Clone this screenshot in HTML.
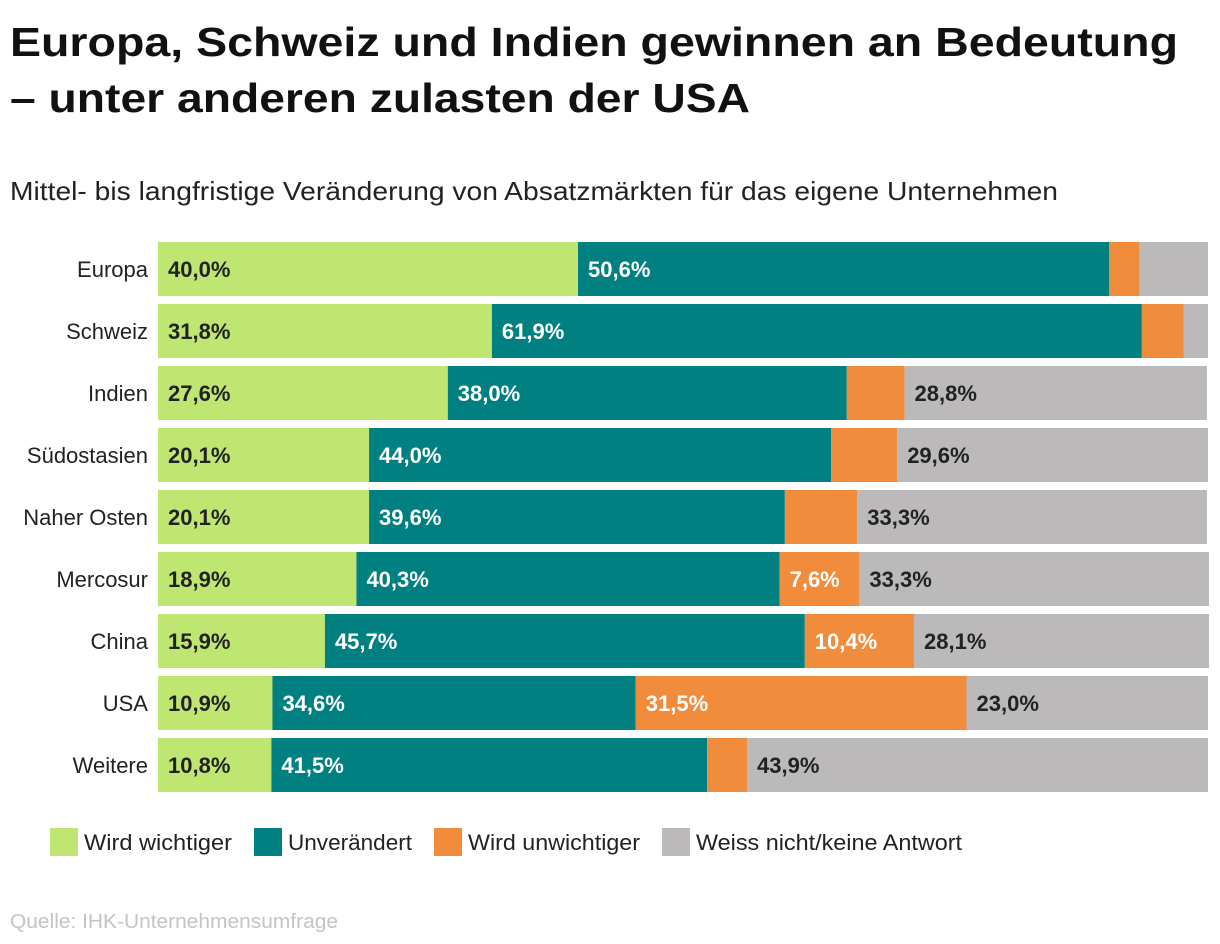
<!DOCTYPE html>
<html><head><meta charset="utf-8"><style>
html,body{margin:0;padding:0;background:#fff;}
svg{display:block;font-family:"Liberation Sans",sans-serif;}
</style></head><body>
<svg id="c" width="1220" height="944" viewBox="0 0 1220 944">
<text x="10" y="56" font-size="41" font-weight="bold" fill="#111" textLength="1168" lengthAdjust="spacingAndGlyphs">Europa, Schweiz und Indien gewinnen an Bedeutung</text>
<text x="10" y="112" font-size="41" font-weight="bold" fill="#111" textLength="740" lengthAdjust="spacingAndGlyphs">– unter anderen zulasten der USA</text>
<text x="10" y="200" font-size="26" fill="#222" textLength="1048" lengthAdjust="spacingAndGlyphs">Mittel- bis langfristige Veränderung von Absatzmärkten für das eigene Unternehmen</text>
<g id="bars"></g>
<g id="legend"></g>
<text x="10" y="928" font-size="20" fill="#c4c4c4" textLength="328" lengthAdjust="spacingAndGlyphs">Quelle: IHK-Unternehmensumfrage</text>
</svg>
<script>
const categories=["Europa","Schweiz","Indien","Südostasien","Naher Osten","Mercosur","China","USA","Weitere"];
const wichtiger=[40.0,31.8,27.6,20.1,20.1,18.9,15.9,10.9,10.8];
const unveraendert=[50.6,61.9,38.0,44.0,39.6,40.3,45.7,34.6,41.5];
const unwichtiger=[2.9,4.0,5.5,6.3,6.9,7.6,10.4,31.5,3.8];
const weissNicht=[6.5,2.3,28.8,29.6,33.3,33.3,28.1,23.0,43.9];
const seriesNames=["Wird wichtiger","Unverändert","Wird unwichtiger","Weiss nicht/keine Antwort"];
const NS="http://www.w3.org/2000/svg";
const colors=["#c0e672","#008080","#f08c3c","#bbb9b9"];
const textColors=["#222","#fff","#fff","#222"];
const x0=158,pxPer=10.5,top0=242,step=62,bh=54;
const xs=v=>v*pxPer;
const g=document.getElementById('bars');
function mk(tag,attrs){const e=document.createElementNS(NS,tag);for(const k in attrs)e.setAttribute(k,attrs[k]);return e;}
const series=[wichtiger,unveraendert,unwichtiger,weissNicht];
categories.forEach((cat,i)=>{
  const y=top0+i*step;
  const lab=mk('text',{x:148,y:y+bh/2+8,'font-size':22,'text-anchor':'end',fill:'#222'});
  lab.textContent=cat;
  
  
  g.appendChild(lab);
  let x=x0;
  series.forEach((s,j)=>{
    const w=xs(s[i]);
    const r=mk('rect',{x:x,y:y,width:w,height:bh,fill:colors[j]});
    
    
    g.appendChild(r);
    if(s[i]>=7){
      const t=mk('text',{x:x+10,y:y+bh/2+8,'font-size':22,'font-weight':'bold',fill:textColors[j]});
      t.textContent=s[i].toFixed(1).replace('.',',')+'%';
      
      
      g.appendChild(t);
    }
    x+=w;
  });
});
const lg=document.getElementById('legend');
const lx=[50,254,434,662];
const lw=[148,124,172,266];
seriesNames.forEach((n,j)=>{
  const r=mk('rect',{x:lx[j],y:828,width:28,height:28,fill:colors[j]});
  
  
  lg.appendChild(r);
  const t=mk('text',{x:lx[j]+34,y:850,'font-size':22,fill:'#222',textLength:lw[j],lengthAdjust:'spacingAndGlyphs'});
  t.textContent=n;
  
  
  lg.appendChild(t);
});
</script>
</body></html>
